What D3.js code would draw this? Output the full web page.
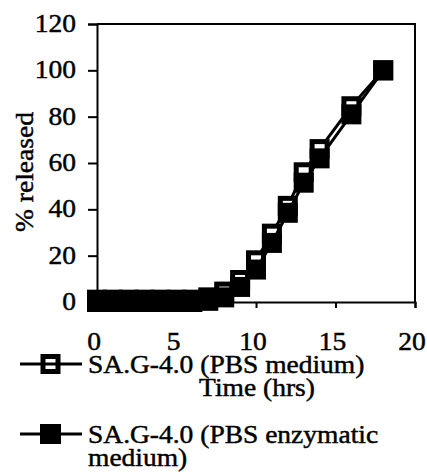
<!DOCTYPE html>
<html><head><meta charset="utf-8">
<script src="https://cdn.jsdelivr.net/npm/d3@7"></script>
<style>body{margin:0;background:#fff}svg{display:block}text{font-family:"Liberation Serif","Times New Roman",serif;fill:#000;stroke:#000;stroke-width:0.45px}</style>
</head><body>
<svg id="c" width="427" height="475"></svg>
<script>
const times = [0,1,2,3,4,5,6,7,8,9,10,11,12,13,14,16,18];
const pbsMedium = [1,1,1,1,1,1,1,2,4.5,9.5,18,29.5,41.5,56,66,84.5,100];
const pbsEnzymatic = [0,0,0,0,0,0,0,0.5,2,6.5,14,25.5,38.5,51.5,62,81,100];
const xTicks = [0,5,10,15,20];
const yTicks = [0,20,40,60,80,100,120];
const seriesNames = ["SA.G-4.0 (PBS medium)", "SA.G-4.0 (PBS enzymatic", "medium)"];

const svg = d3.select("#c");
const x = d3.scaleLinear().domain([0,20]).range([97,415]);
const y = d3.scaleLinear().domain([0,120]).range([302,24]);
const FS = 25, SX = 1.1;

function txt(g, px, py, str, anchor, rot){
  return g.append("text")
    .attr("transform", `translate(${px},${py})` + (rot ? ` rotate(${rot})` : "") + ` scale(${SX},1)`)
    .attr("text-anchor", anchor || "start")
    .style("font-size", FS+"px").text(str);
}

// frame
svg.append("path").attr("d",`M${x(0)},${y(120)}H${x(20)}V${y(0)}`).attr("fill","none").attr("stroke","#000").attr("stroke-width",2);

const ya = svg.append("g").attr("transform",`translate(${x(0)},0)`)
  .call(d3.axisLeft(y).tickValues(yTicks).tickSize(9).tickFormat(""));
ya.select(".domain").attr("stroke-width",2);
ya.selectAll(".tick line").attr("stroke-width",2);
yTicks.forEach(v => txt(svg, 76, y(v)+8, String(v), "end"));

const xa = svg.append("g").attr("transform",`translate(0,${y(0)})`)
  .call(d3.axisBottom(x).tickValues(xTicks).tickSize(6).tickFormat(""));
xa.select(".domain").attr("stroke-width",2);
xa.selectAll(".tick line").attr("stroke-width",2);
xTicks.forEach(v => txt(svg, x(v)-3, 350, String(v), "middle"));

txt(svg, 33, 172, "% released", "middle", -90);
txt(svg, 257, 396, "Time (hrs)", "middle");

const line = d3.line().x((d,i)=>x(times[i])).y(d=>y(d));
function drawSeries(vals, open){
  svg.append("path").attr("d",line(vals)).attr("fill","none").attr("stroke","#000").attr("stroke-width",3);
  svg.append("g").selectAll("rect").data(vals).join("rect")
    .attr("x",(d,i)=>x(times[i])-(open?7.5:10)).attr("y",d=>y(d)-(open?7.5:10))
    .attr("width",open?15:20).attr("height",open?15:20)
    .attr("fill",open?"#fff":"#000").attr("stroke",open?"#000":"none").attr("stroke-width",open?5:0);
}
drawSeries(pbsMedium,true);
drawSeries(pbsEnzymatic,false);

// legend
const lg = svg.append("g");
lg.append("rect").attr("x",43).attr("y",356.5).attr("width",15).attr("height",15).attr("fill","#fff").attr("stroke","#000").attr("stroke-width",5);
lg.append("line").attr("x1",20).attr("x2",82).attr("y1",364).attr("y2",364).attr("stroke","#000").attr("stroke-width",3);
lg.append("line").attr("x1",20).attr("x2",82).attr("y1",434).attr("y2",434).attr("stroke","#000").attr("stroke-width",3);
lg.append("rect").attr("x",40).attr("y",424).attr("width",21).attr("height",20).attr("fill","#000");
txt(lg, 88, 373, seriesNames[0]);
txt(lg, 88, 443, seriesNames[1]);
txt(lg, 88, 466, seriesNames[2]);
</script>
</body></html>
